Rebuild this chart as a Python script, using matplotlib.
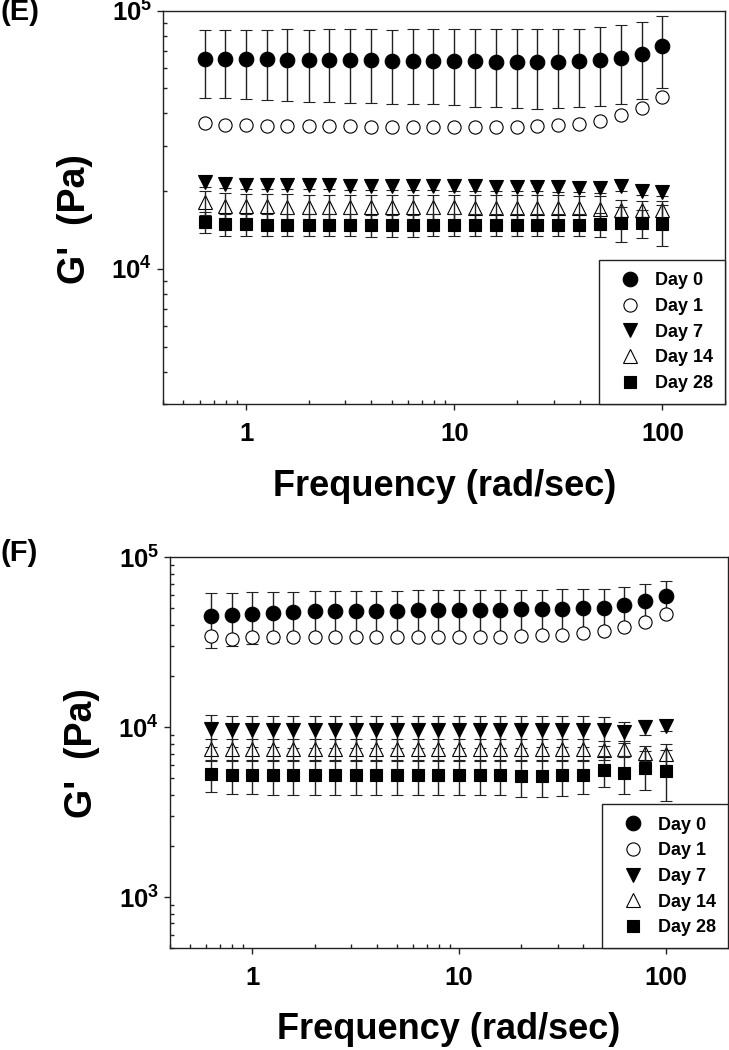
import math
import matplotlib
matplotlib.use("Agg")
import matplotlib.pyplot as plt
from matplotlib.ticker import LogLocator, FuncFormatter, NullFormatter, FixedLocator

plt.rcParams['font.family'] = ['Liberation Sans', 'DejaVu Sans']
plt.rcParams['font.weight'] = 'bold'
plt.rcParams['mathtext.fontset'] = 'custom'
plt.rcParams['mathtext.rm'] = 'Liberation Sans:bold'
plt.rcParams['mathtext.bf'] = 'Liberation Sans:bold'
plt.rcParams['mathtext.default'] = 'bf'

# ---------------- data ----------------
freq = [0.631, 0.794, 1.0, 1.26, 1.58, 2.0, 2.51, 3.16, 3.98, 5.01, 6.31, 7.94,
        10.0, 12.6, 15.8, 20.0, 25.1, 31.6, 39.8, 50.1, 63.1, 79.4, 100.0]
labels = ["Day 0", "Day 1", "Day 7", "Day 14", "Day 28"]

# Panel (E)
e_day0 = [65100, 65100, 65100, 64900, 64700, 64500, 64500, 64300, 64300, 64100, 64100, 64100,
          63900, 63600, 63400, 63400, 63200, 63400, 63700, 64500, 65700, 68200, 72800]
e_day0_sd = [19000, 19300, 19400, 19600, 19900, 20000, 20100, 20300, 20400, 20400, 20600, 20700,
             20900, 21100, 21200, 21300, 21400, 21300, 21200, 21900, 22000, 22500, 22400]
e_day1 = [36600, 36200, 36000, 35800, 35800, 35700, 35700, 35700, 35600, 35500, 35500, 35500,
          35500, 35500, 35300, 35500, 35700, 36000, 36500, 37400, 39300, 41900, 46400]
e_day7 = [21700, 21300, 21200, 21100, 21100, 21100, 21100, 21000, 21000, 21000, 21000, 20950,
          20900, 20900, 20850, 20800, 20750, 20700, 20650, 20550, 20900, 20050, 19800]
e_day7_sd = [900, 800, 750, 750, 750, 750, 750, 750, 750, 800, 800, 800,
             800, 800, 800, 800, 800, 850, 800, 800, 900, 700, 700]
e_day14 = [18100, 17600, 17500, 17500, 17450, 17400, 17400, 17350, 17350, 17350, 17350, 17300,
           17300, 17250, 17200, 17200, 17200, 17200, 17200, 17100, 16950, 16950, 16950]
e_day14_sd = [1900, 2000, 2000, 2000, 2000, 2000, 2000, 2050, 2050, 2050, 2050, 2050,
              2050, 2050, 2100, 2100, 2100, 2100, 2050, 2050, 1500, 1400, 1400]
e_day28 = [15230, 14920, 14900, 14850, 14830, 14830, 14830, 14830, 14800, 14800, 14800, 14830,
           14830, 14830, 14830, 14830, 14830, 14830, 14830, 14900, 15050, 15050, 14950]
e_day28_sd = [1400, 1450, 1450, 1450, 1450, 1450, 1450, 1450, 1450, 1450, 1450, 1450,
              1450, 1450, 1450, 1450, 1450, 1450, 1450, 1600, 2300, 1900, 2700]

# Panel (F)
f_day0 = [45400, 45800, 46500, 47100, 47500, 48000, 48000, 48500, 48600, 48600, 48900, 49100,
          49100, 49100, 49100, 49300, 49300, 49800, 50000, 50200, 52600, 55300, 59200]
f_day0_sd = [16000, 15800, 15600, 15500, 15400, 15300, 15300, 15200, 15100, 15100, 15000, 15000,
             15000, 15000, 15000, 15000, 15000, 14900, 14800, 14600, 14400, 14500, 13800]
f_day1 = [34200, 33000, 34100, 33800, 33800, 33800, 33800, 33800, 33800, 33800, 33800, 33800,
          33900, 33900, 34100, 34400, 34700, 34900, 35700, 36700, 38700, 41500, 46500]
f_day7 = [9700, 9650, 9650, 9650, 9600, 9600, 9600, 9600, 9600, 9600, 9600, 9600,
          9600, 9600, 9600, 9600, 9600, 9600, 9600, 9650, 9400, 10000, 10150]
f_day7_sd = [2050, 2050, 2050, 2050, 2050, 2050, 2050, 2050, 2050, 2050, 2050, 2050,
             2050, 2050, 2050, 2050, 2000, 2000, 2000, 1900, 1300, 1000, 700]
f_day14 = [7450, 7400, 7400, 7400, 7400, 7400, 7400, 7400, 7400, 7400, 7400, 7400,
           7400, 7400, 7400, 7400, 7400, 7400, 7400, 7350, 7450, 7050, 7000]
f_day14_sd = [1100, 1100, 1100, 1100, 1100, 1100, 1100, 1100, 1100, 1100, 1100, 1100,
              1100, 1100, 1100, 1100, 1100, 1100, 1100, 900, 800, 700, 1000]
f_day28 = [5280, 5220, 5220, 5200, 5200, 5200, 5200, 5200, 5200, 5200, 5200, 5200,
           5200, 5200, 5200, 5150, 5150, 5200, 5250, 5580, 5380, 5760, 5540]
f_day28_sd = [1100, 1200, 1200, 1200, 1200, 1200, 1200, 1200, 1200, 1200, 1200, 1200,
              1200, 1200, 1200, 1250, 1250, 1250, 1200, 1150, 1350, 1500, 1850]

# ---------------- styles ----------------
styles = [
    dict(marker='o', ms=10.5, mfc='black', mec='black', mew=0.8),
    dict(marker='o', ms=9.5, mfc='white', mec='black', mew=0.8),
    dict(marker='v', ms=10.5, mfc='black', mec='black', mew=0.8),
    dict(marker='^', ms=10.0, mfc='white', mec='black', mew=0.8),
    dict(marker='s', ms=9.0, mfc='black', mec='black', mew=0.8),
]
INK = '#222222'

fig = plt.figure(figsize=(7.29, 10.5), dpi=100)
W, H = 729.0, 1050.0


def ax_rect(l, t, r, b):
    return [l / W, 1 - b / H, (r - l) / W, (b - t) / H]


def decorate(ax, ylim, yticks):
    ax.set_xscale('log')
    ax.set_yscale('log')
    ax.set_xlim(0.4, 200)
    ax.set_ylim(*ylim)
    for s in ax.spines.values():
        s.set_color(INK)
        s.set_linewidth(1.0)
    ax.xaxis.set_major_locator(FixedLocator([1, 10, 100]))
    ax.xaxis.set_major_formatter(FuncFormatter(lambda v, p: '%d' % round(v)))
    ax.xaxis.set_minor_locator(LogLocator(base=10, subs=range(2, 10)))
    ax.xaxis.set_minor_formatter(NullFormatter())
    ax.yaxis.set_major_locator(FixedLocator(yticks))
    ax.yaxis.set_major_formatter(FuncFormatter(
        lambda v, p: r'$\mathbf{10^{%d}}$' % round(math.log10(v))))
    ax.yaxis.set_minor_locator(LogLocator(base=10, subs=range(2, 10)))
    ax.yaxis.set_minor_formatter(NullFormatter())
    ax.tick_params(which='major', direction='out', length=4, width=1.0, color=INK,
                   labelsize=18.5)
    ax.tick_params(axis='x', which='major', pad=9)
    ax.tick_params(axis='y', which='major', pad=4)
    ax.tick_params(which='minor', direction='in', length=3, width=1.0, color=INK)
    ax.tick_params(top=False, right=False, which='both')
    for t in ax.get_xticklabels() + ax.get_yticklabels():
        t.set_fontweight('bold')
    ax.set_xlabel('Frequency (rad/sec)', fontsize=26, fontweight='bold')
    ax.set_ylabel("G'  (Pa)", fontsize=27, fontweight='bold')


def draw(ax, series, sds):
    handles = []
    for i, (vals, st) in enumerate(zip(series, styles)):
        sd = sds[i]
        c = ax.errorbar(freq, vals, yerr=sd, linestyle='none', ecolor=INK,
                        elinewidth=1.0, capsize=4, capthick=1.0,
                        barsabove=(i == 3), zorder=3 + i, **st)
        handles.append(c[0])
    leg = ax.legend(handles, labels, loc='lower right', bbox_to_anchor=(1.0, 0.0),
                    borderaxespad=0.0, frameon=True, fancybox=False,
                    edgecolor=INK, framealpha=1, numpoints=1,
                    prop={'weight': 'bold', 'size': 13},
                    handlelength=2.1, handletextpad=0.33, borderpad=0.67,
                    labelspacing=0.48)
    leg.get_frame().set_linewidth(1.0)
    leg.set_zorder(20)


# ---- Panel E ----
axE = fig.add_axes(ax_rect(163.3, 10.7, 725, 404))
draw(axE, [e_day0, e_day1, e_day7, e_day14, e_day28],
     [e_day0_sd, None, e_day7_sd, e_day14_sd, e_day28_sd])
decorate(axE, (3000, 1e5), [1e4, 1e5])
axE.xaxis.set_label_coords(0.5, -0.165)
axE.yaxis.set_label_coords(-0.125, 0.47)

# ---- Panel F ----
axF = fig.add_axes(ax_rect(170, 557.3, 728, 948.3))
draw(axF, [f_day0, f_day1, f_day7, f_day14, f_day28],
     [f_day0_sd, None, f_day7_sd, f_day14_sd, f_day28_sd])
decorate(axF, (500, 1e5), [1e3, 1e4, 1e5])
axF.xaxis.set_label_coords(0.5, -0.164)
axF.yaxis.set_label_coords(-0.125, 0.5)

fig.text(0.0, 1 - 12 / H, '(E)', fontsize=21, fontweight='bold', va='center', ha='left')
fig.text(0.0, 1 - 553 / H, '(F)', fontsize=21, fontweight='bold', va='center', ha='left')

fig.savefig('out.png', dpi=100)
